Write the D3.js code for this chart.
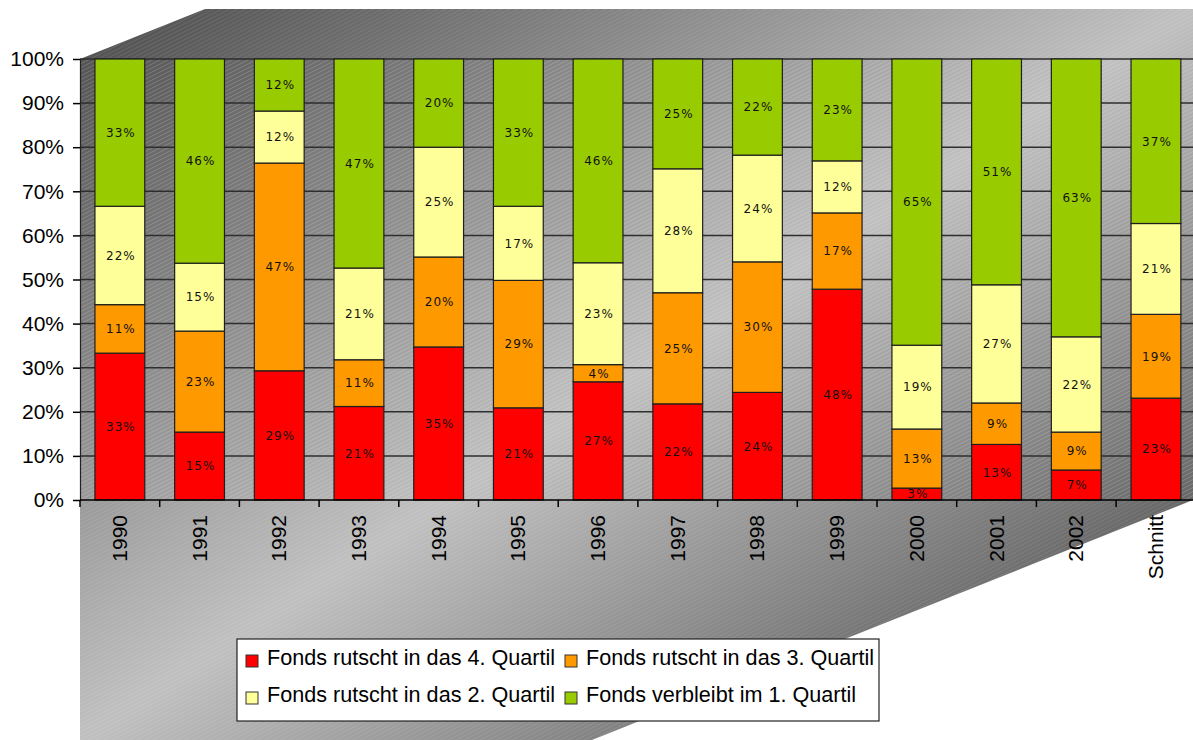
<!DOCTYPE html>
<html>
<head>
<meta charset="utf-8">
<script src="https://cdn.jsdelivr.net/npm/d3@7"></script>
<style>
  body { margin: 0; background: #fff; }
  svg { display: block; }
</style>
</head>
<body>
<div id="chart"></div>
<script>
// categories and shares (percent) per quartile move
let categories = ["1990", "1991", "1992", "1993", "1994", "1995", "1996", "1997", "1998", "1999", "2000", "2001", "2002", "Schnitt"]
let q4 = [33.3, 15.4, 29.3, 21.2, 34.7, 20.9, 26.8, 21.8, 24.4, 47.8, 2.7, 12.6, 6.8, 23.1]
let q3 = [11.0, 22.9, 47.1, 10.6, 20.4, 28.9, 3.9, 25.2, 29.6, 17.3, 13.4, 9.4, 8.6, 19.0]
let q2 = [22.3, 15.4, 11.8, 20.8, 24.9, 16.8, 23.1, 28.1, 24.2, 11.8, 19.0, 26.8, 21.6, 20.6]
let q1 = [33.4, 46.3, 11.8, 47.4, 20.0, 33.4, 46.2, 24.9, 21.8, 23.1, 64.9, 51.2, 63.0, 37.3]
let seriesNames = ["Fonds rutscht in das 4. Quartil", "Fonds rutscht in das 3. Quartil", "Fonds rutscht in das 2. Quartil", "Fonds verbleibt im 1. Quartil"]
let seriesColors = ["#ff0000", "#ff9900", "#ffff99", "#99cc00"]
let yTicks = [0, 10, 20, 30, 40, 50, 60, 70, 80, 90, 100]

let W = 1193, H = 740
let plotLeft = 80, plotTop = 59, plotBottom = 500

let svg = d3.select("#chart").append("svg")
    .attr("width", W)
    .attr("height", H)

let defs = svg.append("defs")
let grad = defs.append("linearGradient").attr("id", "bg")
    .attr("x1", 0).attr("y1", 0).attr("x2", 1).attr("y2", 1)
grad.append("stop").attr("offset", 0).attr("stop-color", "#4c4c4c")
grad.append("stop").attr("offset", 0.5).attr("stop-color", "#c0c0c0")
grad.append("stop").attr("offset", 1).attr("stop-color", "#3c3c3c")

// fine diagonal hatch, tile aligned to the pixel grid
let hatch = defs.append("pattern").attr("id", "hatch")
    .attr("patternUnits", "userSpaceOnUse")
    .attr("width", 8).attr("height", 4)
hatch.append("path").attr("d", "M-4,2 L4,-2 M0,4 L8,0 M4,6 L12,2")
    .style("stroke", "#ffffff").style("stroke-opacity", 0.12).style("stroke-width", 0.8)
    .style("fill", "none")

defs.append("clipPath").attr("id", "plotclip")
    .append("rect").attr("x", plotLeft).attr("y", plotTop).attr("width", W - plotLeft).attr("height", plotBottom - plotTop)

// background shape (chart area with perspective edges)
let shape = [[plotLeft, plotTop], [205, 9], [W, 9], [W, plotBottom], [592, H], [plotLeft, H]]
svg.append("polygon").attr("points", shape.map(p => p.join(",")).join(" "))
    .style("fill", "url(#bg)")
svg.append("polygon").attr("points", shape.map(p => p.join(",")).join(" "))
    .style("fill", "url(#hatch)")
svg.append("rect").attr("x", plotLeft).attr("y", plotTop).attr("width", W - plotLeft).attr("height", plotBottom - plotTop)
    .style("fill", "url(#hatch)")

let x = d3.scaleBand()
    .domain(categories)
    .range([plotLeft, plotLeft + 14 * 79.7])
    .paddingInner(0.375)
    .paddingOuter(0.1875)

let y = d3.scaleLinear().domain([0, 100]).range([plotBottom, plotTop])

// gridlines
svg.append("g").selectAll("line").data(yTicks.slice(1)).join("line")
    .attr("x1", plotLeft).attr("x2", W)
    .attr("y1", d => y(d)).attr("y2", d => y(d))
    .style("stroke", "#2e2e2e").style("stroke-width", 1.5)

// y axis
let yAxis = svg.append("g").attr("transform", "translate(" + plotLeft + ",0)")
    .call(d3.axisLeft(y).tickValues(yTicks).tickSize(7).tickFormat(d => d + "%"))
yAxis.select(".domain").style("stroke", "#222").style("stroke-width", 1.2)
yAxis.selectAll(".tick line").style("stroke", "#000").style("stroke-width", 1.5)
yAxis.selectAll("text")
    .attr("x", -16)
    .style("font-family", "'Liberation Sans', Arial, sans-serif")
    .style("font-size", "21px")
    .style("fill", "#000")

// bars
let table = categories.map((c, i) => ({cat: c, q4: q4[i], q3: q3[i], q2: q2[i], q1: q1[i]}))
let keys = ["q4", "q3", "q2", "q1"]
let stacked = d3.stack().keys(keys)(table)

let layers = svg.append("g").selectAll("g").data(stacked).join("g")
    .style("fill", (d, i) => seriesColors[i])
layers.selectAll("rect").data(d => d).join("rect")
    .attr("x", d => x(d.data.cat))
    .attr("width", x.bandwidth())
    .attr("y", d => y(d[1]))
    .attr("height", d => y(d[0]) - y(d[1]))
    .style("stroke", "#1e1e1e")
    .style("stroke-width", 1.2)

// segment labels
let labels = svg.append("g").attr("clip-path", "url(#plotclip)")
stacked.forEach(layer => {
    labels.selectAll(null).data(layer).join("text")
        .attr("x", d => x(d.data.cat) + x.bandwidth() / 2 + 1)
        .attr("y", d => (y(d[0]) + y(d[1])) / 2)
        .attr("dy", "0.36em")
        .attr("text-anchor", "middle")
        .style("font-family", "'DejaVu Sans', Verdana, sans-serif")
        .style("font-size", "12px")
        .style("letter-spacing", "1px")
        .style("fill", "#111")
        .text(d => Math.round(d[1] - d[0]) + "%")
})

// x axis
let xAxis = svg.append("g").attr("transform", "translate(0," + plotBottom + ")")
xAxis.append("line").attr("x1", plotLeft).attr("x2", W).attr("y1", 0).attr("y2", 0)
    .style("stroke", "#000").style("stroke-width", 1.5)
xAxis.selectAll("line.tk").data(categories).join("line")
    .attr("class", "tk")
    .attr("x1", d => x(d) - x.step() * x.paddingInner() / 2)
    .attr("x2", d => x(d) - x.step() * x.paddingInner() / 2)
    .attr("y1", 0).attr("y2", 7)
    .style("stroke", "#000").style("stroke-width", 1.5)
xAxis.selectAll("text").data(categories).join("text")
    .attr("transform", d => "translate(" + (x(d) + x.bandwidth() / 2 + 7) + ",15) rotate(-90)")
    .attr("text-anchor", "end")
    .style("font-family", "'Liberation Sans', Arial, sans-serif")
    .style("font-size", "21px")
    .style("fill", "#000")
    .text(d => d)

// legend
let legend = svg.append("g")
legend.append("rect").attr("x", 237).attr("y", 639).attr("width", 642).attr("height", 82)
    .style("fill", "#fff").style("stroke", "#222").style("stroke-width", 1.2)
let legendPos = [[246, 655], [565, 655], [246, 692], [565, 692]]
seriesNames.forEach((name, i) => {
    let p = legendPos[i]
    legend.append("rect").attr("x", p[0]).attr("y", p[1]).attr("width", 12).attr("height", 12)
        .style("fill", seriesColors[i]).style("stroke", "#333").style("stroke-width", 1)
    legend.append("text").attr("x", p[0] + 21).attr("y", p[1] + 10)
        .style("font-family", "'Liberation Sans', Arial, sans-serif")
        .style("font-size", "21.6px")
        .style("fill", "#000")
        .text(name)
})
</script>
</body>
</html>
